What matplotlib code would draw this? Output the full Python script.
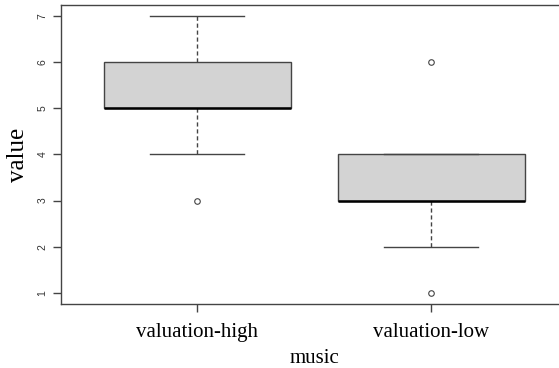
import matplotlib
matplotlib.use("Agg")
import matplotlib.pyplot as plt

# box statistics per group
groups = ["valuation-high", "valuation-low"]
q1 = [5, 3]
med = [5, 3]
q3 = [6, 4]
whislo = [4, 2]
whishi = [7, 4]
fliers = [[3], [6, 1]]
y_ticks = [1, 2, 3, 4, 5, 6, 7]

stats = []
for i, name in enumerate(groups):
    stats.append({"label": name, "q1": q1[i], "med": med[i], "q3": q3[i],
                  "whislo": whislo[i], "whishi": whishi[i], "fliers": fliers[i]})

fig = plt.figure(figsize=(5.59, 3.68), dpi=100)
ax = fig.add_axes([0.110, 0.174, 0.904, 0.813])

edge = "#444444"
ax.bxp(stats, positions=[1, 2], widths=0.8, patch_artist=True,
       boxprops=dict(facecolor="#d3d3d3", edgecolor=edge, linewidth=1),
       medianprops=dict(color="black", linewidth=1.8),
       whiskerprops=dict(color=edge, linestyle=(0, (3, 2)), linewidth=1),
       capprops=dict(color=edge, linewidth=1),
       capwidths=0.4,
       flierprops=dict(marker="o", markersize=4, markerfacecolor="none",
                       markeredgecolor=edge, markeredgewidth=0.8))

ax.set_xlim(0.42, 2.58)
ax.set_ylim(0.76, 7.24)
ax.set_yticks(y_ticks)
ax.set_yticklabels([str(v) for v in y_ticks], rotation=90, va="center",
                   fontsize=7.5, family="Liberation Sans", color="#333333")
ax.set_xticks([1, 2])
ax.set_xticklabels(groups, fontsize=15, family="Liberation Serif")
ax.tick_params(axis="both", length=6, color=edge, width=1)
ax.tick_params(axis="x", pad=8)
ax.tick_params(axis="y", pad=4)
for s in ax.spines.values():
    s.set_color(edge)
    s.set_linewidth(1)

ax.set_xlabel("music", fontsize=15, family="Liberation Serif", labelpad=5)
ax.set_ylabel("value", fontsize=18, family="Liberation Serif", labelpad=6)

fig.savefig("out.png", dpi=100)
